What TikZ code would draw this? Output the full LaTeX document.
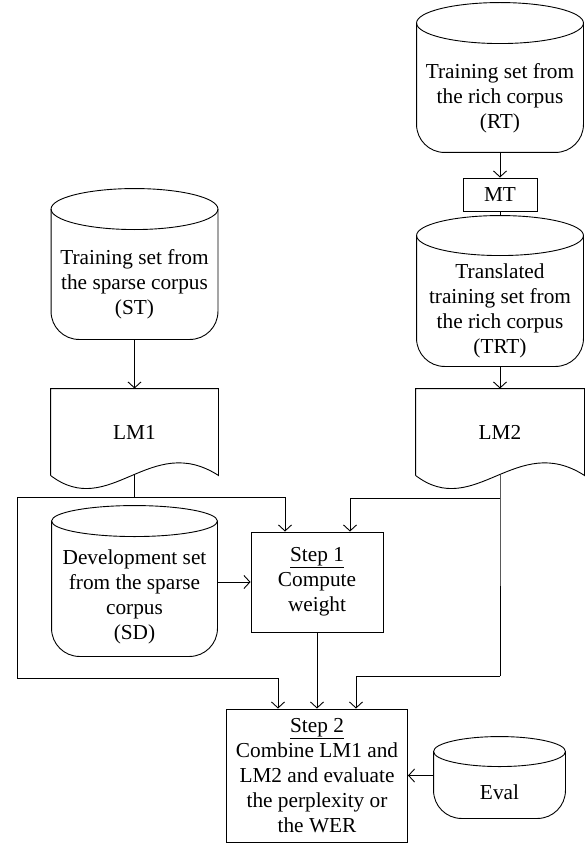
\documentclass[tikz,border=0pt]{standalone}
\usepackage{fontspec}
\setmainfont{Liberation Serif}
\usetikzlibrary{arrows.meta,calc}
\newcommand{\cylshape}[2]{%
  \draw[rounded corners=28pt] ([yshift=#2pt]#1.north west) -- (#1.south west) -- (#1.south east) -- ([yshift=#2pt]#1.north east);
  \draw let \p1=(#1.north west), \p2=(#1.north east) in
    ([yshift=#2pt]#1.north) ellipse [x radius={0.5*(\x2-\x1)}, y radius=#2pt];
}
\newcommand{\docshape}[1]{%
  \draw (#1.south west) -- (#1.north west) -- (#1.north east) -- (#1.south east)
    .. controls +(-68,-44) and +(59,45) .. (#1.south west);
}
\tikzset{
  base/.style={inner sep=0pt, align=center, font=\fontsize{21.3}{25}\selectfont},
  box/.style={base, draw},
  arr/.style={-{Straight Barb[length=6pt,width=13pt]}},
}
\begin{document}
\begin{tikzpicture}[x=1pt, y=-1pt, line width=0.9pt]
\fill[white] (0,0) rectangle (587,845);
\useasboundingbox (0,0) rectangle (587,845);

\node[base, minimum width=166pt, minimum height=108pt] (RT) at (500,98) {Training set from\\the rich corpus\\(RT)};
\node[box, minimum width=74pt, minimum height=33pt] (MT) at (500,194.5) {MT};
\node[base, minimum width=166pt, minimum height=110pt] (TRT) at (500,311) {Translated\\training set from\\the rich corpus\\(TRT)};
\node[base, minimum width=166pt, minimum height=109pt] (ST) at (134.5,284.5) {Training set from\\the sparse corpus\\(ST)};
\node[base, minimum width=167pt, minimum height=86pt] (LM1) at (134.5,432) {LM1};
\node[base, minimum width=168pt, minimum height=86pt] (LM2) at (500,432) {LM2};
\node[base, minimum width=165pt, minimum height=119pt] (DEV) at (134.5,596.5) {Development set\\from the sparse\\corpus\\(SD)};
\node[box, minimum width=132pt, minimum height=100pt] (S1) at (317,582) {\underline{Step 1}\\Compute\\weight};
\node[box, minimum width=181pt, minimum height=133pt] (S2) at (317,775.5) {\underline{Step 2}\\Combine LM1 and\\LM2 and evaluate\\the perplexity or\\the WER};
\node[base, minimum width=131pt, minimum height=51pt] (EV) at (499.5,792.5) {Eval};

\cylshape{RT}{20.5}
\cylshape{TRT}{20}
\cylshape{ST}{20.5}
\cylshape{DEV}{15.5}
\cylshape{EV}{15}
\docshape{LM1}
\docshape{LM2}

\draw[arr] (RT.south) -- (MT.north);
\draw (MT.south) -- ([yshift=40pt]TRT.north);
\draw[arr] (TRT.south) -- (LM2.north);
\draw[arr] (ST.south) -- (LM1.north);

\coordinate (a1) at (134.5,497);
\draw (LM1.south) -- (a1);
\draw[arr] (a1) -| ([xshift=-32pt]S1.north);
\draw[arr] (a1) -| (17,678) -| ([xshift=-39pt]S2.north);

\coordinate (b1) at (500,498);
\coordinate (b2) at (500,676);
\draw (LM2.south) -- (b1) -- (b2);
\draw[arr] (b1) -| ([xshift=33pt]S1.north);
\draw[arr] (b2) -| ([xshift=39pt]S2.north);

\draw[arr] (S1.south) -- (S2.north);
\draw[arr] (DEV.east |- S1.west) -- (S1.west);
\draw[arr] (EV.west |- S2.east) -- (S2.east);
\end{tikzpicture}
\end{document}
